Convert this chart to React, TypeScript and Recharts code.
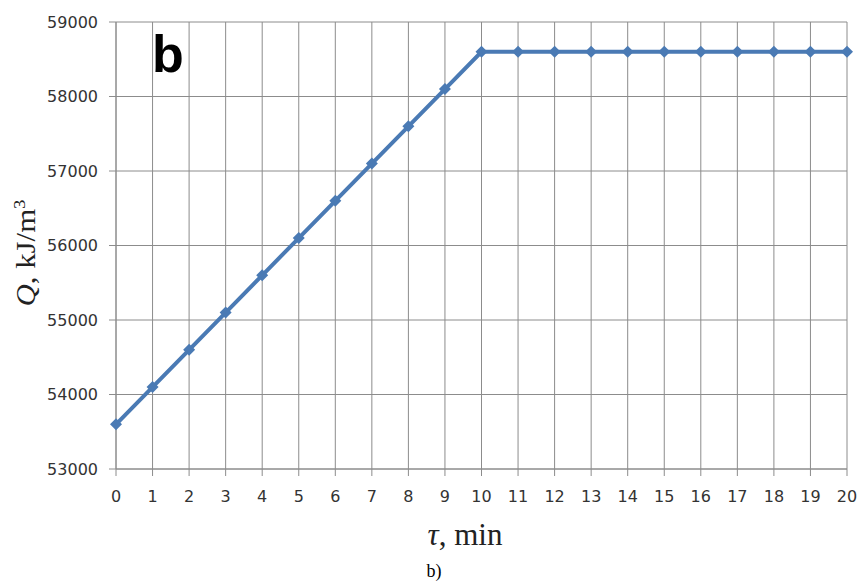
import { LineChart, Line, XAxis, YAxis, CartesianGrid } from "recharts";

const minutes = [0, 1, 2, 3, 4, 5, 6, 7, 8, 9, 10, 11, 12, 13, 14, 15, 16, 17, 18, 19, 20];
const heat = [
  53600, 54100, 54600, 55100, 55600, 56100, 56600, 57100, 57600, 58100, 58600,
  58600, 58600, 58600, 58600, 58600, 58600, 58600, 58600, 58600, 58600,
];
const yTicks = [53000, 54000, 55000, 56000, 57000, 58000, 59000];

const data = minutes.map((t, i) => ({ t, q: heat[i] }));

const Diamond = (props: any) => {
  const { cx, cy } = props;
  if (cx == null || cy == null) return null;
  const r = 6;
  return (
    <polygon
      points={`${cx},${cy - r} ${cx + r},${cy} ${cx},${cy + r} ${cx - r},${cy}`}
      fill="#4a7ab4"
    />
  );
};

const tickStyle = { fontSize: 16, fill: "#333", fontFamily: "DejaVu Sans" };

export default function App() {
  return (
    <div style={{ position: "absolute", left: 0, top: 0, width: 860, height: 582, background: "#fff" }}>
      <LineChart width={860} height={582} data={data} margin={{ top: 22, right: 13, left: 20, bottom: 63 }}>
        <CartesianGrid stroke="#8c8c8c" strokeWidth={1} />
        <XAxis
          dataKey="t"
          type="number"
          domain={[0, 20]}
          ticks={minutes}
          interval={0}
          height={50}
          stroke="#8c8c8c"
          tickSize={7}
          tickMargin={15}
          tick={tickStyle}
        />
        <YAxis
          type="number"
          domain={[53000, 59000]}
          ticks={yTicks}
          width={96}
          stroke="#8c8c8c"
          tickSize={7}
          tickMargin={11}
          tick={tickStyle}
        />
        <Line
          dataKey="q"
          stroke="#4a7ab4"
          strokeWidth={4}
          dot={<Diamond />}
          activeDot={false}
          isAnimationActive={false}
        />
      </LineChart>
      <div
        style={{
          position: "absolute",
          left: 152,
          top: 24,
          fontFamily: "Liberation Sans, Arial",
          fontWeight: "bold",
          fontSize: 52,
          lineHeight: "60px",
          color: "#000",
        }}
      >
        b
      </div>
      <div
        style={{
          position: "absolute",
          left: 26,
          top: 253,
          transform: "translate(-50%, -50%) rotate(-90deg) scaleX(1.1)",
          whiteSpace: "nowrap",
          fontFamily: "Liberation Serif, Times New Roman",
          fontSize: 28,
          color: "#222",
        }}
      >
        <i>Q</i>, kJ/m<sup style={{ fontSize: 17 }}>3</sup>
      </div>
      <div
        style={{
          position: "absolute",
          left: 465,
          top: 535,
          transform: "translate(-50%, -50%)",
          whiteSpace: "nowrap",
          fontFamily: "Liberation Serif, Times New Roman",
          fontSize: 31,
          color: "#222",
        }}
      >
        <i>τ</i>, min
      </div>
      <div
        style={{
          position: "absolute",
          left: 434,
          top: 571,
          transform: "translate(-50%, -50%)",
          fontFamily: "Liberation Serif, Times New Roman",
          fontSize: 18,
          color: "#000",
        }}
      >
        b)
      </div>
    </div>
  );
}
